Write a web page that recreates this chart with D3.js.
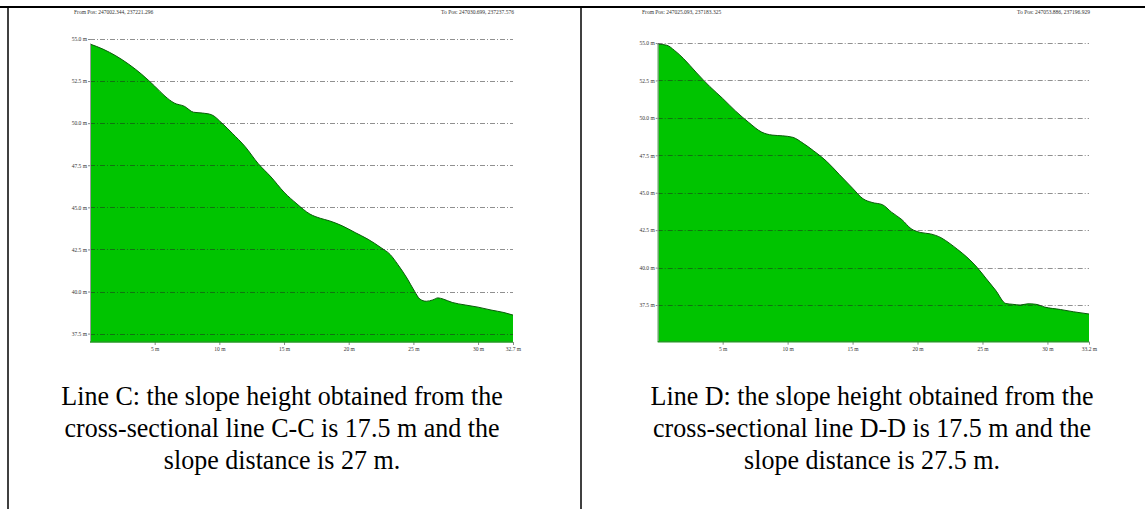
<!DOCTYPE html>
<html>
<head>
<meta charset="utf-8">
<script src="https://cdn.jsdelivr.net/npm/d3@7"></script>
<style>
  html, body { margin: 0; padding: 0; background: #fff; }
  svg { display: block; }
</style>
</head>
<body>
<svg id="fig" width="1145" height="509"></svg>
<script>
// Elevation profile along section C-C (distance m, elevation m)
const distC = [0, 1, 2, 3, 4, 5, 5.8, 6.5, 7.3, 8.0, 8.7, 9.4, 10.2, 11, 12, 13, 14, 15, 16, 17, 17.8, 18.5, 19.5, 20.5, 21.5, 22.5, 23.2, 23.8, 24.5, 25.1, 25.5, 26.0, 26.5, 26.9, 27.3, 28.0, 29, 30, 31, 32, 32.7];
const elevC = [54.7, 54.4, 54.0, 53.5, 52.9, 52.2, 51.6, 51.2, 51.0, 50.65, 50.6, 50.5, 50.0, 49.4, 48.6, 47.6, 46.8, 45.9, 45.2, 44.6, 44.35, 44.2, 43.9, 43.5, 43.1, 42.6, 42.2, 41.6, 40.8, 40.0, 39.55, 39.42, 39.5, 39.62, 39.55, 39.35, 39.2, 39.07, 38.9, 38.75, 38.6];

// Elevation profile along section D-D
const distD = [0, 0.7, 1.3, 2, 3, 4, 5, 6, 7, 8, 8.8, 9.6, 10.4, 11.2, 12, 13, 14, 15, 15.8, 16.5, 17.3, 18, 18.8, 19.5, 20.2, 21, 21.8, 22.5, 23.1, 23.8, 24.6, 25.3, 26.0, 26.8, 27.3, 27.9, 28.5, 29.1, 29.8, 31, 32, 33.2];
const elevD = [54.93, 54.85, 54.5, 53.95, 53.0, 52.1, 51.3, 50.45, 49.7, 49.05, 48.85, 48.8, 48.7, 48.3, 47.8, 47.1, 46.2, 45.3, 44.6, 44.35, 44.2, 43.7, 43.2, 42.6, 42.35, 42.25, 42.0, 41.6, 41.2, 40.7, 40.0, 39.25, 38.5, 37.6, 37.55, 37.5, 37.58, 37.55, 37.36, 37.2, 37.05, 36.9];

// Axis ticks
const elevTicks = [55.0, 52.5, 50.0, 47.5, 45.0, 42.5, 40.0, 37.5];
const distTicksC = [5, 10, 15, 20, 25, 30, 32.7];
const distTicksD = [5, 10, 15, 20, 25, 30, 33.2];
const elevMinC = 37.0, elevMinD = 35.05, elevMax = 55.0;

// Header and caption texts
const fromC = "From Pos: 247002.344, 237221.296";
const toC = "To Pos: 247030.699, 237237.576";
const fromD = "From Pos: 247025.093, 237183.325";
const toD = "To Pos: 247053.886, 237196.929";
const captionC = ["Line C: the slope height obtained from the", "cross-sectional line C-C is 17.5 m and the", "slope distance is 27 m."];
const captionD = ["Line D: the slope height obtained from the", "cross-sectional line D-D is 17.5 m and the", "slope distance is 27.5 m."];

const svg = d3.select("#fig");

// Table frame
svg.append("line").attr("x1", 0).attr("x2", 1145).attr("y1", 7).attr("y2", 7)
  .attr("stroke", "#000").attr("stroke-width", 2);
svg.append("line").attr("x1", 8).attr("x2", 8).attr("y1", 6).attr("y2", 509)
  .attr("stroke", "#000").attr("stroke-width", 1.5);
svg.append("line").attr("x1", 581).attr("x2", 581).attr("y1", 6).attr("y2", 509)
  .attr("stroke", "#000").attr("stroke-width", 1.5);

function profile(cfg) {
  const g = svg.append("g");
  // white sheet of the profile figure
  g.append("rect").attr("x", cfg.sheet[0]).attr("y", 8)
    .attr("width", cfg.sheet[1] - cfg.sheet[0]).attr("height", 352).attr("fill", "#fff");

  const x = d3.scaleLinear().domain([0, cfg.dist[cfg.dist.length - 1]]).range(cfg.xr);
  const y = d3.scaleLinear().domain([cfg.elevMin, elevMax]).range(cfg.yr);
  const pts = cfg.dist.map((d, i) => [d, cfg.elev[i]]);

  const area = d3.area().x(d => x(d[0])).y0(y(cfg.elevMin)).y1(d => y(d[1]))
    .curve(d3.curveMonotoneX);
  const line = d3.line().x(d => x(d[0])).y(d => y(d[1])).curve(d3.curveMonotoneX);

  g.append("path").datum(pts).attr("d", area).attr("fill", "#00c400");
  g.append("path").datum(pts).attr("d", line).attr("fill", "none")
    .attr("stroke", "#0b5a0b").attr("stroke-width", 1);

  // dash-dot grid lines
  g.selectAll(".grid").data(elevTicks).join("line")
    .attr("x1", cfg.xr[0]).attr("x2", cfg.xr[1])
    .attr("y1", d => Math.round(y(d)) + 0.5).attr("y2", d => Math.round(y(d)) + 0.5)
    .attr("stroke", "#222").attr("stroke-opacity", 0.5).attr("stroke-width", 1)
    .attr("stroke-dasharray", "5,2,1,2");

  // left axis
  const yAxis = d3.axisLeft(y).tickValues(elevTicks).tickSize(2).tickPadding(1)
    .tickFormat(d => d3.format(".1f")(d) + " m");
  g.append("g").attr("transform", `translate(${cfg.xr[0]},0)`).call(yAxis)
    .call(a => a.select(".domain").remove())
    .call(a => a.selectAll("line").attr("stroke", "#888"))
    .call(a => a.selectAll("text").attr("font-family", "Liberation Serif")
      .attr("font-size", 5.5).attr("fill", "#333"));
  g.append("line").attr("x1", cfg.xr[0] + 0.5).attr("x2", cfg.xr[0] + 0.5)
    .attr("y1", y(cfg.elev[0])).attr("y2", y(cfg.elevMin))
    .attr("stroke", "#9a9a9a").attr("stroke-width", 1);

  // bottom axis
  const xAxis = d3.axisBottom(x).tickValues(cfg.ticks).tickSize(3).tickPadding(2)
    .tickFormat(d => d + " m");
  g.append("g").attr("transform", `translate(0,${y(cfg.elevMin)})`).call(xAxis)
    .call(a => a.select(".domain").remove())
    .call(a => a.selectAll("line").attr("stroke", "#888"))
    .call(a => a.selectAll("text").attr("font-family", "Liberation Serif")
      .attr("font-size", 5.5).attr("fill", "#333"));
  g.append("line").attr("x1", cfg.xr[0]).attr("x2", cfg.xr[1])
    .attr("y1", y(cfg.elevMin)).attr("y2", y(cfg.elevMin))
    .attr("stroke", "#239a23").attr("stroke-width", 1.5);

  // end positions
  g.append("text").attr("x", cfg.fromX).attr("y", 14).text(cfg.from)
    .attr("font-family", "Liberation Serif").attr("font-size", 5.5).attr("fill", "#333");
  g.append("text").attr("x", cfg.xr[1] + 1).attr("y", 14).text(cfg.to)
    .attr("text-anchor", "end")
    .attr("font-family", "Liberation Serif").attr("font-size", 5.5).attr("fill", "#333");

  // caption (slightly condensed serif)
  g.selectAll(".cap").data(cfg.caption).join("text")
    .attr("transform", (d, i) => `translate(${cfg.capX},${405 + i * 32}) scale(0.93,1)`)
    .attr("text-anchor", "middle")
    .attr("font-family", "Liberation Serif").attr("font-size", 28).attr("fill", "#000")
    .text(d => d);
}

profile({
  dist: distC, elev: elevC, elevMin: elevMinC, ticks: distTicksC,
  xr: [90, 513], yr: [342, 39], sheet: [70, 517],
  from: fromC, to: toC, fromX: 74, caption: captionC, capX: 282
});
profile({
  dist: distD, elev: elevD, elevMin: elevMinD, ticks: distTicksD,
  xr: [657.7, 1089], yr: [341.7, 43], sheet: [638, 1092],
  from: fromD, to: toD, fromX: 642, caption: captionD, capX: 872
});
</script>
</body>
</html>
